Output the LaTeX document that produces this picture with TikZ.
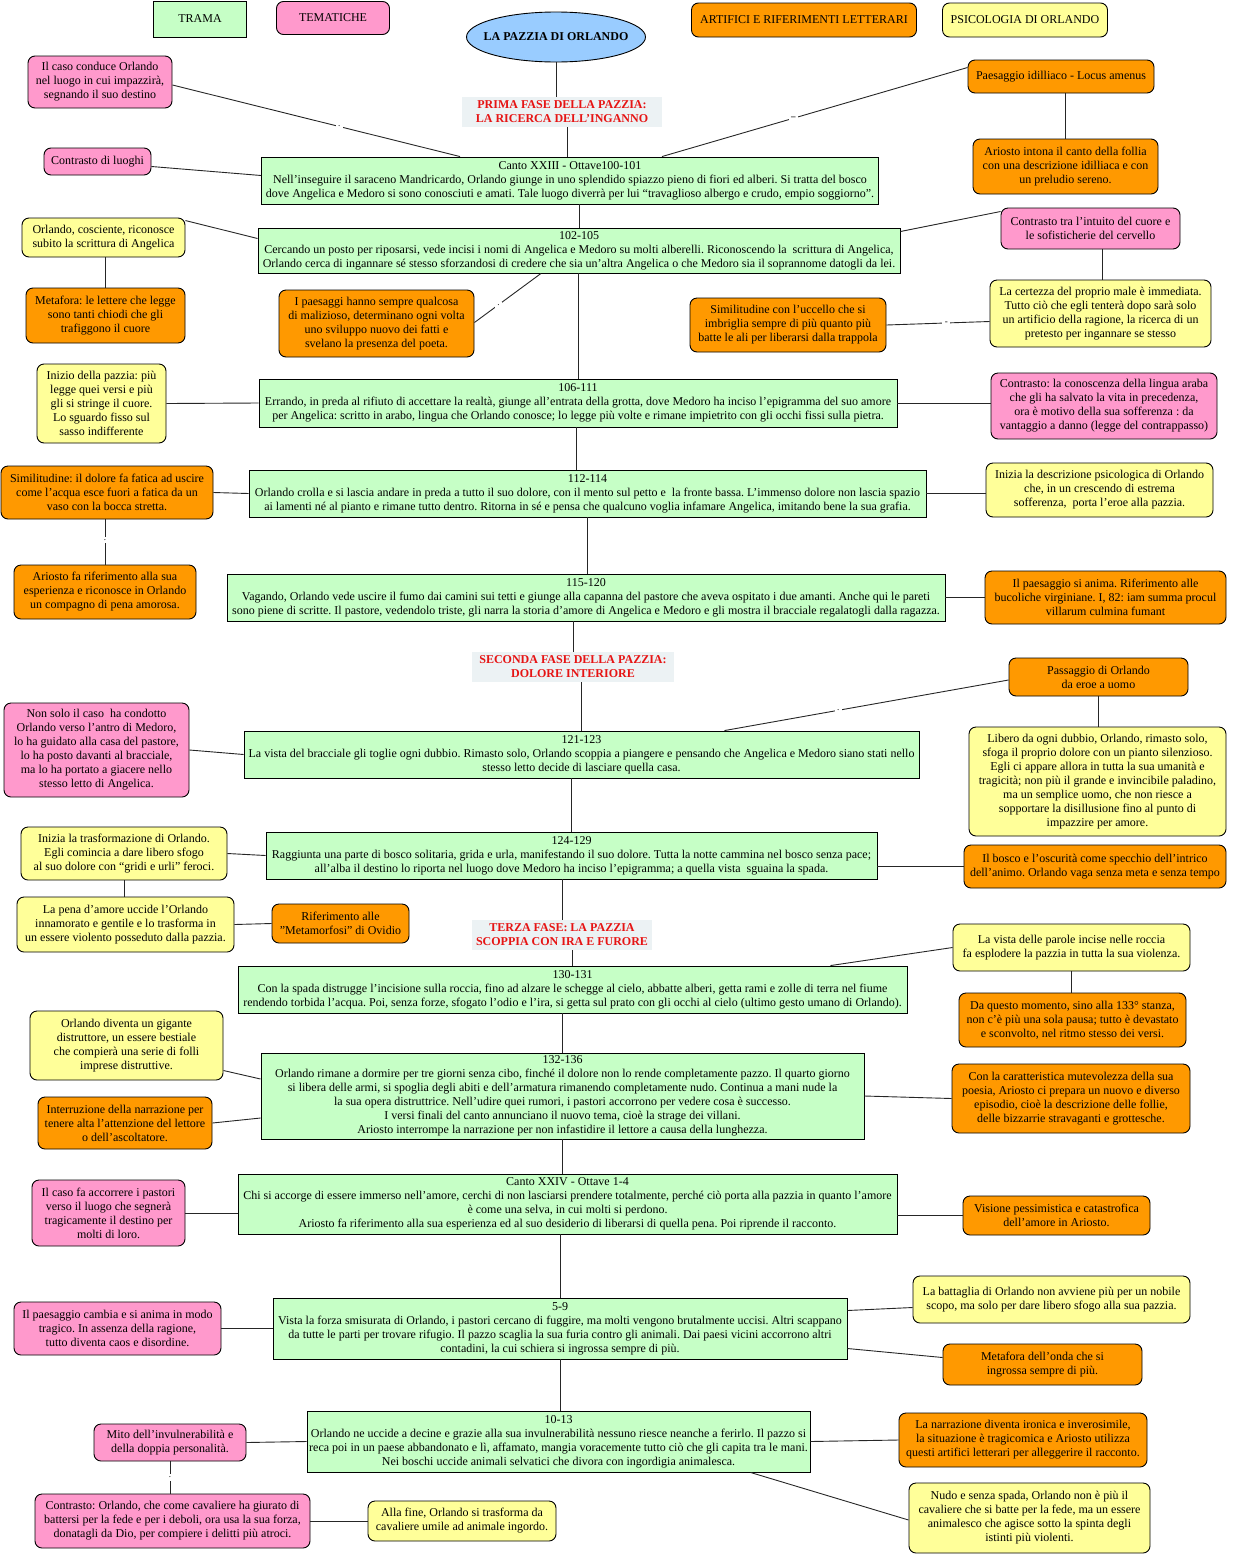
\documentclass[tikz,border=0pt]{standalone}
\usepackage{fontspec}
\setmainfont{Liberation Serif}
\usetikzlibrary{shapes.geometric}
\definecolor{verde}{RGB}{198,255,198}
\definecolor{rosa}{RGB}{255,153,204}
\definecolor{arancio}{RGB}{255,153,0}
\definecolor{giallo}{RGB}{255,255,153}
\definecolor{azzurro}{RGB}{153,204,255}
\definecolor{grigino}{RGB}{236,242,244}
\definecolor{rosso}{RGB}{230,20,20}
\tikzset{
  box/.style={draw=black, line width=0.9pt, align=center, inner xsep=1.5pt, inner ysep=2pt, font=\fontsize{12}{14}\selectfont\frenchspacing},
  trama/.style={box, fill=verde},
  tema/.style={box, fill=rosa, rounded corners=7pt},
  artif/.style={box, fill=arancio, rounded corners=7pt},
  psico/.style={box, fill=giallo, rounded corners=7pt},
  titolo/.style={box, ellipse, fill=azzurro, inner sep=0pt, font=\fontsize{12}{14}\selectfont\bfseries},
  fase/.style={align=center, fill=grigino, text=rosso, inner sep=2pt, font=\fontsize{12}{14}\selectfont\bfseries},
  conn/.style={line width=0.9pt, draw=black!85},
  gap/.style={fill=white, inner sep=2.5pt, font=\fontsize{9}{9}\selectfont},
}
\begin{document}
\begin{tikzpicture}[x=1pt,y=-1pt]
\useasboundingbox (0,0) rectangle (1232,1556);
% legenda
\node[trama, minimum width=93, minimum height=36] (leg1) at (200,19) {TRAMA};
\node[tema, minimum width=113, minimum height=33] (leg2) at (333,18) {TEMATICHE};
\node[artif, minimum width=225, minimum height=34] (leg3) at (804,20) {ARTIFICI E RIFERIMENTI LETTERARI};
\node[psico, minimum width=165, minimum height=34] (leg4) at (1025,20) {PSICOLOGIA DI ORLANDO};
\node[titolo, minimum width=179, minimum height=50] (ell) at (556,37) {\makebox[100pt]{LA PAZZIA DI ORLANDO}};
% fasi
\node[fase, minimum width=200, minimum height=30] (fase1) at (562,112) {PRIMA FASE DELLA PAZZIA:\\LA RICERCA DELL'INGANNO};
\node[fase, minimum width=202, minimum height=30] (fase2) at (573,667) {SECONDA FASE DELLA PAZZIA:\\DOLORE INTERIORE};
\node[fase, minimum width=180, minimum height=30] (fase3) at (562,935) {TERZA FASE: LA PAZZIA\\SCOPPIA CON IRA E FURORE};
% trama
\node[trama, minimum width=617, minimum height=47] (b1) at (570,180.5) {Canto XXIII - Ottave100-101\\Nell’inseguire il saraceno Mandricardo, Orlando giunge in uno splendido spiazzo pieno di fiori ed alberi. Si tratta del bosco\\dove Angelica e Medoro si sono conosciuti e amati. Tale luogo diverrà per lui “travaglioso albergo e crudo, empio soggiorno”.};
\node[trama, minimum width=642, minimum height=45] (b2) at (579,250.5) {102-105\\Cercando un posto per riposarsi, vede incisi i nomi di Angelica e Medoro su molti alberelli. Riconoscendo la \ scrittura di Angelica,\\Orlando cerca di ingannare sé stesso sforzandosi di credere che sia un’altra Angelica o che Medoro sia il soprannome datogli da lei.};
\node[trama, minimum width=638, minimum height=48] (b3) at (578,403) {106-111\\Errando, in preda al rifiuto di accettare la realtà, giunge all’entrata della grotta, dove Medoro ha inciso l’epigramma del suo amore\\per Angelica: scritto in arabo, lingua che Orlando conosce; lo legge più volte e rimane impietrito con gli occhi fissi sulla pietra.};
\node[trama, minimum width=677, minimum height=47] (b4) at (587.5,493.5) {112-114\\Orlando crolla e si lascia andare in preda a tutto il suo dolore, con il mento sul petto e \ la fronte bassa. L’immenso dolore non lascia spazio\\ai lamenti né al pianto e rimane tutto dentro. Ritorna in sé e pensa che qualcuno voglia infamare Angelica, imitando bene la sua grafia.};
\node[trama, minimum width=718, minimum height=47] (b5) at (586,597.5) {115-120\\Vagando, Orlando vede uscire il fumo dai camini sui tetti e giunge alla capanna del pastore che aveva ospitato i due amanti. Anche qui le pareti\\sono piene di scritte. Il pastore, vedendolo triste, gli narra la storia d’amore di Angelica e Medoro e gli mostra il bracciale regalatogli dalla ragazza.};
\node[trama, minimum width=675, minimum height=47] (b6) at (581.5,754.5) {121-123\\La vista del bracciale gli toglie ogni dubbio. Rimasto solo, Orlando scoppia a piangere e pensando che Angelica e Medoro siano stati nello\\stesso letto decide di lasciare quella casa.};
\node[trama, minimum width=611, minimum height=47] (b7) at (571.5,855.5) {124-129\\Raggiunta una parte di bosco solitaria, grida e urla, manifestando il suo dolore. Tutta la notte cammina nel bosco senza pace;\\all’alba il destino lo riporta nel luogo dove Medoro ha inciso l’epigramma; a quella vista \ sguaina la spada.};
\node[trama, minimum width=669, minimum height=47] (b8) at (572.5,989.5) {130-131\\Con la spada distrugge l’incisione sulla roccia, fino ad alzare le schegge al cielo, abbatte alberi, getta rami e zolle di terra nel fiume\\rendendo torbida l’acqua. Poi, senza forze, sfogato l’odio e l’ira, si getta sul prato con gli occhi al cielo (ultimo gesto umano di Orlando).};
\node[trama, minimum width=603, minimum height=86] (b9) at (562.5,1096) {132-136\\Orlando rimane a dormire per tre giorni senza cibo, finché il dolore non lo rende completamente pazzo. Il quarto giorno\\si libera delle armi, si spoglia degli abiti e dell’armatura rimanendo completamente nudo. Continua a mani nude la\\la sua opera distruttrice. Nell’udire quei rumori, i pastori accorrono per vedere cosa è successo.\\I versi finali del canto annunciano il nuovo tema, cioè la strage dei villani.\\Ariosto interrompe la narrazione per non infastidire il lettore a causa della lunghezza.};
\node[trama, minimum width=659, minimum height=60] (b10) at (567.5,1204) {Canto XXIV - Ottave 1-4\\Chi si accorge di essere immerso nell’amore, cerchi di non lasciarsi prendere totalmente, perché ciò porta alla pazzia in quanto l’amore\\è come una selva, in cui molti si perdono.\\Ariosto fa riferimento alla sua esperienza ed al suo desiderio di liberarsi di quella pena. Poi riprende il racconto.};
\node[trama, minimum width=574, minimum height=61] (b11) at (560,1328.5) {5-9\\Vista la forza smisurata di Orlando, i pastori cercano di fuggire, ma molti vengono brutalmente uccisi. Altri scappano\\da tutte le parti per trovare rifugio. Il pazzo scaglia la sua furia contro gli animali. Dai paesi vicini accorrono altri\\contadini, la cui schiera si ingrossa sempre di più.};
\node[trama, minimum width=503, minimum height=61] (b12) at (558.5,1441.5) {10-13\\Orlando ne uccide a decine e grazie alla sua invulnerabilità nessuno riesce neanche a ferirlo. Il pazzo si\\reca poi in un paese abbandonato e lì, affamato, mangia voracemente tutto ciò che gli capita tra le mani.\\Nei boschi uccide animali selvatici che divora con ingordigia animalesca.};
% colonna sinistra
\node[tema, minimum width=144, minimum height=52] (p1) at (100,82) {Il caso conduce Orlando\\nel luogo in cui impazzirà,\\segnando il suo destino};
\node[tema, minimum width=107, minimum height=27] (p2) at (97.5,161.5) {Contrasto di luoghi};
\node[psico, minimum width=163, minimum height=39] (y1) at (103.5,237.5) {Orlando, cosciente, riconosce\\subito la scrittura di Angelica};
\node[artif, minimum width=159, minimum height=55] (o1) at (105.5,315.5) {Metafora: le lettere che legge\\sono tanti chiodi che gli\\trafiggono il cuore};
\node[artif, minimum width=195, minimum height=67] (o2) at (376.5,323.5) {I paesaggi hanno sempre qualcosa\\di malizioso, determinano ogni volta\\uno sviluppo nuovo dei fatti e\\svelano la presenza del poeta.};
\node[psico, minimum width=129, minimum height=79] (y2) at (101.5,403.5) {Inizio della pazzia: più\\legge quei versi e più\\gli si stringe il cuore.\\Lo sguardo fisso sul\\sasso indifferente};
\node[artif, minimum width=212, minimum height=53] (o3) at (107,492.5) {Similitudine: il dolore fa fatica ad uscire\\come l’acqua esce fuori a fatica da un\\vaso con la bocca stretta.};
\node[artif, minimum width=182, minimum height=54] (o4) at (105,592) {Ariosto fa riferimento alla sua\\esperienza e riconosce in Orlando\\un compagno di pena amorosa.};
\node[tema, minimum width=185, minimum height=94] (p3) at (96.5,750) {Non solo il caso \ ha condotto\\Orlando verso l'antro di Medoro,\\lo ha guidato alla casa del pastore,\\lo ha posto davanti al bracciale,\\ma lo ha portato a giacere nello\\stesso letto di Angelica.};
\node[psico, minimum width=206, minimum height=53] (y3) at (124,853.5) {Inizia la trasformazione di Orlando.\\Egli comincia a dare libero sfogo\\al suo dolore con “gridi e urli” feroci.};
\node[psico, minimum width=217, minimum height=55] (y4) at (125.5,924.5) {La pena d’amore uccide l’Orlando\\innamorato e gentile e lo trasforma in\\un essere violento posseduto dalla pazzia.};
\node[artif, minimum width=137, minimum height=39] (o5) at (340.5,923.5) {Riferimento alle\\"Metamorfosi" di Ovidio};
\node[psico, minimum width=193, minimum height=69] (y5) at (126.5,1045.5) {Orlando diventa un gigante\\distruttore, un essere bestiale\\che compierà una serie di folli\\imprese distruttive.};
\node[artif, minimum width=174, minimum height=52] (o6) at (125,1123) {Interruzione della narrazione per\\tenere alta l'attenzione del lettore\\o dell'ascoltatore.};
\node[tema, minimum width=153, minimum height=66] (p4) at (108.5,1213) {Il caso fa accorrere i pastori\\verso il luogo che segnerà\\tragicamente il destino per\\molti di loro.};
\node[tema, minimum width=207, minimum height=53] (p5) at (117.5,1328.5) {Il paesaggio cambia e si anima in modo\\tragico. In assenza della ragione,\\tutto diventa caos e disordine.};
\node[tema, minimum width=152, minimum height=37] (p6) at (170,1442.5) {Mito dell’invulnerabilità e\\della doppia personalità.};
\node[tema, minimum width=275, minimum height=54] (p7) at (172.5,1521) {Contrasto: Orlando, che come cavaliere ha giurato di\\battersi per la fede e per i deboli, ora usa la sua forza,\\donatagli da Dio, per compiere i delitti più atroci.};
\node[psico, minimum width=188, minimum height=40] (y6) at (462,1521) {Alla fine, Orlando si trasforma da\\cavaliere umile ad animale ingordo.};
% colonna destra
\node[artif, minimum width=186, minimum height=33] (o7) at (1061,76.5) {Paesaggio idilliaco - Locus amenus};
\node[artif, minimum width=185, minimum height=55] (o8) at (1065.5,166.5) {Ariosto intona il canto della follia\\con una descrizione idilliaca e con\\un preludio sereno.};
\node[tema, minimum width=179, minimum height=41] (p8) at (1090.5,228.5) {Contrasto tra l’intuito del cuore e\\le sofisticherie del cervello};
\node[psico, minimum width=221, minimum height=67] (y7) at (1100.5,313.5) {La certezza del proprio male è immediata.\\Tutto ciò che egli tenterà dopo sarà solo\\un artificio della ragione, la ricerca di un\\pretesto per ingannare se stesso};
\node[artif, minimum width=196, minimum height=54] (o9) at (788,325) {Similitudine con l’uccello che si\\imbriglia sempre di più quanto più\\batte le ali per liberarsi dalla trappola};
\node[tema, minimum width=226, minimum height=66] (p9) at (1104,406) {Contrasto: la conoscenza della lingua araba\\che gli ha salvato la vita in precedenza,\\ora è motivo della sua sofferenza : da\\vantaggio a danno (legge del contrappasso)};
\node[psico, minimum width=227, minimum height=54] (y8) at (1099.5,490) {Inizia la descrizione psicologica di Orlando\\che, in un crescendo di estrema\\sofferenza, \ porta l’eroe alla pazzia.};
\node[artif, minimum width=241, minimum height=53] (o10) at (1105.5,597.5) {Il paesaggio si anima. Riferimento alle\\bucoliche virginiane. I, 82: iam summa procul\\villarum culmina fumant};
\node[artif, minimum width=179, minimum height=38] (o11) at (1098.5,677) {Passaggio di Orlando\\da eroe a uomo};
\node[psico, minimum width=257, minimum height=109] (y9) at (1097.5,781.5) {Libero da ogni dubbio, Orlando, rimasto solo,\\sfoga il proprio dolore con un pianto silenzioso.\\Egli ci appare allora in tutta la sua umanità e\\tragicità; non più il grande e invincibile paladino,\\ma un semplice uomo, che non riesce a\\sopportare la disillusione fino al punto di\\impazzire per amore.};
\node[artif, minimum width=262, minimum height=43] (o12) at (1095,866.5) {Il bosco e l’oscurità come specchio dell’intrico\\dell’animo. Orlando vaga senza meta e senza tempo};
\node[psico, minimum width=237, minimum height=47] (y10) at (1071.5,947.5) {La vista delle parole incise nelle roccia\\fa esplodere la pazzia in tutta la sua violenza.};
\node[artif, minimum width=227, minimum height=54] (o13) at (1072.5,1020) {Da questo momento, sino alla 133° stanza,\\non c'è più una sola pausa; tutto è devastato\\e sconvolto, nel ritmo stesso dei versi.};
\node[artif, minimum width=238, minimum height=69] (o14) at (1071,1098.5) {Con la caratteristica mutevolezza della sua\\poesia, Ariosto ci prepara un nuovo e diverso\\episodio, cioè la descrizione delle follie,\\delle bizzarrie stravaganti e grottesche.};
\node[artif, minimum width=187, minimum height=39] (o15) at (1056.5,1215.5) {Visione pessimistica e catastrofica\\dell’amore in Ariosto.};
\node[psico, minimum width=277, minimum height=47] (y11) at (1051.5,1299.5) {La battaglia di Orlando non avviene più per un nobile\\scopo, ma solo per dare libero sfogo alla sua pazzia.};
\node[artif, minimum width=199, minimum height=41] (o16) at (1042.5,1364.5) {Metafora dell’onda che si\\ingrossa sempre di più.};
\node[artif, minimum width=248, minimum height=54] (o17) at (1023,1440) {La narrazione diventa ironica e inverosimile,\\la situazione è tragicomica e Ariosto utilizza\\questi artifici letterari per alleggerire il racconto.};
\node[psico, minimum width=241, minimum height=70] (y12) at (1029.5,1518) {Nudo e senza spada, Orlando non è più il\\cavaliere che si batte per la fede, ma un essere\\animalesco che agisce sotto la spinta degli\\istinti più violenti.};
% asse centrale
\draw[conn] (ell.south) -- (ell.south |- fase1.north);
\draw[conn] ([xshift=5pt]fase1.south) -- ([xshift=5pt]fase1.south |- b1.north);
\draw[conn] (b2.north |- b1.south) -- (b2.north);
\draw[conn] (b3.north |- b2.south) -- (b3.north);
\draw[conn] ([xshift=-2pt]b3.south) -- ([xshift=-2pt]b3.south |- b4.north);
\draw[conn] (b4.south) -- (b4.south |- b5.north);
\draw[conn] (fase2.north |- b5.south) -- (fase2.north);
\draw[conn] (b6.north |- fase2.south) -- (b6.north);
\draw[conn] (b7.north |- b6.south) -- (b7.north);
\draw[conn] (fase3.north |- b7.south) -- (fase3.north);
\draw[conn] (b8.north |- fase3.south) -- (b8.north);
\draw[conn] (b9.north |- b8.south) -- (b9.north);
\draw[conn] (b9.south) -- (b9.south |- b10.north);
\draw[conn] (b11.north |- b10.south) -- (b11.north);
\draw[conn] (b11.south) -- (b11.south |- b12.north);
% collegamenti a sinistra
\draw[conn] ([yshift=-3pt]p1.east) -- node[gap, pos=0.58] {.} ([xshift=-110pt]b1.north);
\draw[conn] ([yshift=-5pt]p2.east) -- ([yshift=5pt]b1.west);
\draw[conn] ([yshift=-3pt]y1.north east) -- ([yshift=12pt]b2.west);
\draw[conn] (o1.north |- y1.south) -- (o1.north);
\draw[conn] ([yshift=1pt]o2.east) -- node[gap, pos=0.36] {.} ([xshift=-38pt]b2.south);
\draw[conn] (y2.east) -- (b3.west);
\draw[conn] (o3.east) -- (b4.west);
\draw[conn] ([xshift=-2pt]o3.south) -- node[gap, pos=0.45] {.} ([xshift=-2pt]o3.south |- o4.north);
\draw[conn] (p3.east) -- (b6.west);
\draw[conn] (y3.east) -- (b7.west);
\draw[conn] (y4.north -| y3.south) -- (y3.south);
\draw[conn] (y4.east) -- (o5.west);
\draw[conn] ([yshift=-25pt]y5.east) -- ([yshift=17pt]b9.west);
\draw[conn] (o6.east) -- ([yshift=-22pt]b9.west);
\draw[conn] (p4.east) -- (p4.east -| b10.west);
\draw[conn] (p5.east) -- (b11.west);
\draw[conn] (p6.east) -- (b12.west);
\draw[conn] (p6.south) -- node[gap, pos=0.5] {.} (p6.south |- p7.north);
\draw[conn] (p7.east) -- (y6.west);
% collegamenti a destra
\draw[conn] ([yshift=9pt]o7.west) -- node[gap, pos=0.57] {\textbf{–}} ([xshift=92pt]b1.north);
\draw[conn] (o8.north |- o7.south) -- (o8.north);
\draw[conn] ([yshift=19pt]b2.east) -- ([yshift=17pt]p8.west);
\draw[conn] ([xshift=12pt]p8.south) -- ([xshift=12pt]p8.south |- y7.north);
\draw[conn] (o9.east) -- node[gap, pos=0.58] {-} ([yshift=-8pt]y7.west);
\draw[conn] (b3.east) -- (b3.east -| p9.west);
\draw[conn] (b4.east) -- (b4.east -| y8.west);
\draw[conn] (b5.east) -- (o10.west);
\draw[conn] ([yshift=-3pt]o11.west) -- node[gap, pos=0.6] {.} ([xshift=143pt]b6.north);
\draw[conn] (o11.south) -- (o11.south |- y9.north);
\draw[conn] (o12.west -| b7.east) -- (o12.west);
\draw[conn] ([xshift=258pt]b8.north) -- (y10.west);
\draw[conn] (y10.south) -- (y10.south |- o13.north);
\draw[conn] (b9.east) -- (o14.west);
\draw[conn] (o15.west -| b10.east) -- (o15.west);
\draw[conn] ([yshift=18pt]b11.east) -- ([yshift=-8pt]y11.west);
\draw[conn] ([yshift=-20pt]b11.east) -- ([yshift=7pt]o16.west);
\draw[conn] (b12.east) -- (o17.west);
\draw[conn] ([xshift=192pt]b12.south) -- ([yshift=-2pt]y12.west);
\end{tikzpicture}
\end{document}
